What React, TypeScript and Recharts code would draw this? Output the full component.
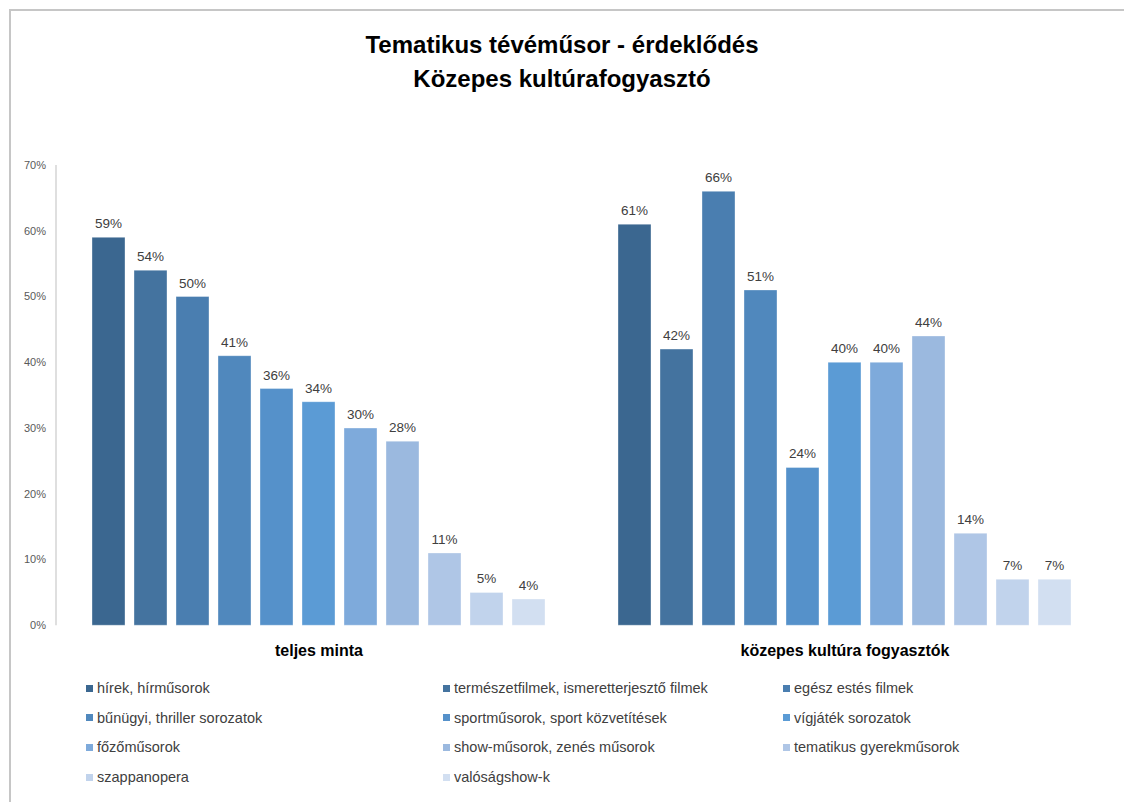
import { Bar, BarChart, LabelList, Legend, XAxis, YAxis } from "recharts";

const groups = ["teljes minta", "közepes kultúra fogyasztók"];
const programs = [
  "hírek, hírműsorok",
  "természetfilmek, ismeretterjesztő filmek",
  "egész estés filmek",
  "bűnügyi, thriller sorozatok",
  "sportműsorok, sport közvetítések",
  "vígjáték sorozatok",
  "főzőműsorok",
  "show-műsorok, zenés műsorok",
  "tematikus gyerekműsorok",
  "szappanopera",
  "valóságshow-k"
];
const teljesMinta = [59, 54, 50, 41, 36, 34, 30, 28, 11, 5, 4];
const kozepesKultura = [61, 42, 66, 51, 24, 40, 40, 44, 14, 7, 7];
const yTicks = [0, 10, 20, 30, 40, 50, 60, 70];
const colors = [
  "#3b6790",
  "#44739f",
  "#4a7eb0",
  "#5088bd",
  "#5591ca",
  "#5b9bd5",
  "#7eaadb",
  "#9bb9df",
  "#afc6e6",
  "#c1d3ec",
  "#d2dff1"
];

const font = '"Liberation Sans", Arial, sans-serif';

const data = groups.map((group, gi) => {
  const values = gi === 0 ? teljesMinta : kozepesKultura;
  const row: Record<string, string | number> = { group };
  programs.forEach((_, i) => {
    row[`s${i}`] = values[i];
  });
  return row;
});

function LegendGrid({ payload }: any) {
  // keep the series order, not alphabetical
  const items = [...(payload || [])].sort(
    (a: any, b: any) => programs.indexOf(a.value) - programs.indexOf(b.value)
  );
  return (
    <div
      style={{
        display: "grid",
        gridTemplateColumns: "357px 340px 300px",
        paddingLeft: 86,
        fontFamily: font,
        fontSize: 14.5,
        color: "#404040"
      }}
    >
      {items.map((entry: any) => (
        <div key={entry.value} style={{ height: 29.7, display: "flex", alignItems: "center" }}>
          <span style={{ width: 7, height: 7, background: entry.color, marginRight: 4, flexShrink: 0 }} />
          {entry.value}
        </div>
      ))}
    </div>
  );
}

export default function App() {
  return (
    <div
      style={{
        position: "absolute",
        left: 0,
        top: 0,
        width: 1124,
        height: 802,
        background: "#fff",
        overflow: "hidden",
        fontFamily: font
      }}
    >
      <div
        style={{
          position: "absolute",
          left: 9,
          top: 9,
          width: 1130,
          height: 800,
          borderTop: "2px solid #c6c6c6",
          borderLeft: "2px solid #c6c6c6"
        }}
      />
      <div
        style={{
          position: "absolute",
          left: 0,
          top: 28,
          width: 1124,
          textAlign: "center",
          fontWeight: "bold",
          fontSize: 24,
          lineHeight: "34px",
          color: "#000"
        }}
      >
        Tematikus tévéműsor - érdeklődés
        <br />
        Közepes kultúrafogyasztó
      </div>
      <BarChart
        width={1124}
        height={802}
        data={data}
        margin={{ top: 165, right: 16, bottom: 10, left: 0 }}
        barCategoryGap={36}
        barGap={9}
        style={{ position: "absolute", left: 0, top: 0 }}
      >
        <XAxis
          dataKey="group"
          axisLine={false}
          tickLine={false}
          height={48}
          tick={{ fontSize: 16, fontWeight: "bold", fill: "#000", fontFamily: font }}
          dy={11}
        />
        <YAxis
          domain={[0, 70]}
          ticks={yTicks}
          width={56}
          axisLine={{ stroke: "#bfbfbf" }}
          tickLine={false}
          tick={{ fontSize: 11, fill: "#595959", fontFamily: font }}
          tickMargin={4}
          tickFormatter={(v) => `${v}%`}
        />
        <Legend
          verticalAlign="bottom"
          wrapperStyle={{ left: 0, width: 1124, bottom: 10 }}
          content={<LegendGrid />}
        />
        {programs.map((name, i) => (
          <Bar
            key={name}
            dataKey={`s${i}`}
            name={name}
            fill={colors[i]}
            stroke="rgba(255,255,255,0.35)"
            isAnimationActive={false}
          >
            <LabelList
              dataKey={`s${i}`}
              position="top"
              offset={9}
              formatter={(v: any) => `${v}%`}
              style={{ fontSize: 13.5, fill: "#404040", fontFamily: font }}
            />
          </Bar>
        ))}
      </BarChart>
    </div>
  );
}
